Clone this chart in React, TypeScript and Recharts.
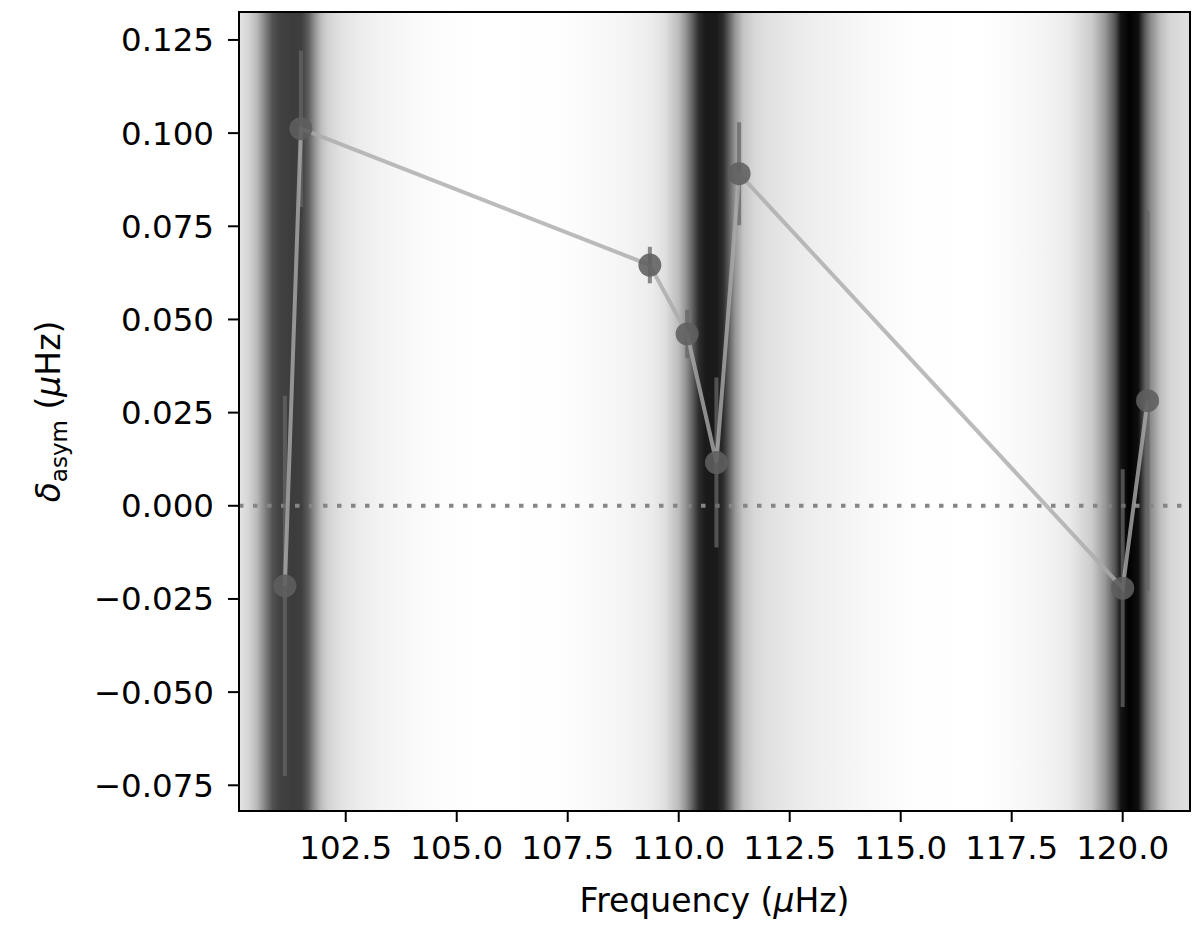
import React from 'react';
import {
  ComposedChart, Line, Scatter, XAxis, YAxis, ErrorBar, ReferenceArea, ReferenceLine, Label,
} from 'recharts';

// measured asymmetry points
const freq = [101.13, 101.49, 109.35, 110.19, 110.85, 111.36, 120.0, 120.56];
const dAsym = [-0.0215, 0.1012, 0.0646, 0.0461, 0.0116, 0.0891, -0.0221, 0.0282];
const dAsymErr = [0.051, 0.021, 0.0049, 0.0065, 0.0228, 0.0138, 0.0319, 0.051];

const xTicks = [102.5, 105.0, 107.5, 110.0, 112.5, 115.0, 117.5, 120.0];
const yTicks = [-0.075, -0.05, -0.025, 0, 0.025, 0.05, 0.075, 0.1, 0.125];

// background spectrum (grey level at each frequency)
const bgFreq = [
  100.1, 100.3, 100.5, 100.7, 100.85, 101.0, 101.3, 101.5, 101.65, 101.8, 101.95, 102.1, 102.4,
  102.8, 103.3, 104.0, 104.8, 105.5, 107.3, 108.0, 108.85, 109.4, 109.7, 110.0, 110.15, 110.3,
  110.45, 110.6, 110.85, 111.0, 111.12, 111.27, 111.45, 111.7, 112.0, 112.5, 113.1, 114.3, 115.4,
  116.8, 117.4, 118.2, 118.8, 119.3, 119.6, 119.83, 119.96, 120.15, 120.35, 120.5, 120.62, 120.84,
  121.07, 121.5,
];
const bgShade = [
  228, 214, 185, 125, 82, 66, 60, 62, 92, 145, 190, 210, 226,
  236, 243, 249, 253, 255, 254, 250, 244, 236, 222, 187, 150, 100,
  45, 26, 26, 45, 90, 150, 195, 215, 224, 232, 239, 248, 254,
  255, 251, 244, 234, 204, 153, 85, 20, 2, 15, 90, 136, 187,
  214, 224,
];

const xMin = 100.096;
const xMax = 121.516;
const yMin = -0.0819;
const yMax = 0.1325;

const FONT = 'DejaVu Sans';

const data = freq.map((f, i) => ({ f, d: dAsym[i], err: dAsymErr[i] }));

const fmtY = (v: number) => (v < 0 ? '\u2212' : '') + Math.abs(v).toFixed(3);

const XLabel = (props: any) => {
  const { x, y, width } = props.viewBox;
  return (
    <text x={x + width / 2} y={y + 101} textAnchor="middle" fontFamily={FONT} fontSize={33} fill="#000">
      Frequency (<tspan fontStyle="italic">μ</tspan>Hz)
    </text>
  );
};

const YLabel = (props: any) => {
  const { y, height } = props.viewBox;
  const cx = 52;
  const cy = y + height / 2;
  return (
    <text
      x={cx}
      y={cy}
      transform={`rotate(-90 ${cx} ${cy})`}
      textAnchor="middle"
      fontFamily={FONT}
      fontSize={33}
      fill="#000"
    >
      <tspan fontStyle="italic">δ</tspan>
      <tspan fontSize={23} dy={7}>asym</tspan>
      <tspan dy={-7}>{'  ('}</tspan>
      <tspan fontStyle="italic">μ</tspan>
      <tspan>Hz)</tspan>
    </text>
  );
};

const Dot = (props: any) => {
  const { cx, cy } = props;
  return <circle cx={cx} cy={cy} r={11.5} fill="#5e5e5e" fillOpacity={0.88} />;
};

export default function App() {
  const span = xMax - xMin;
  return (
    <ComposedChart
      width={1184}
      height={916}
      data={data}
      margin={{ top: 4, right: 2, bottom: 13, left: 0 }}
    >
      <defs>
        <linearGradient id="spectrum" x1="0" y1="0" x2="1" y2="0">
          {bgFreq.map((f, i) => (
            <stop
              key={i}
              offset={`${((f - xMin) / span) * 100}%`}
              stopColor={`rgb(${bgShade[i]},${bgShade[i]},${bgShade[i]})`}
            />
          ))}
        </linearGradient>
      </defs>
      <XAxis
        dataKey="f"
        type="number"
        domain={[xMin, xMax]}
        allowDataOverflow
        ticks={xTicks}
        interval={0}
        tickFormatter={(v: number) => v.toFixed(1)}
        height={100}
        tickSize={11}
        tickMargin={14}
        axisLine={{ stroke: '#000', strokeWidth: 2 }}
        tickLine={{ stroke: '#000', strokeWidth: 2 }}
        tick={{ fill: '#000', fontSize: 32.5, fontFamily: FONT }}
      >
        <Label content={XLabel} />
      </XAxis>
      <YAxis
        type="number"
        domain={[yMin, yMax]}
        allowDataOverflow
        ticks={yTicks}
        interval={0}
        tickFormatter={fmtY}
        width={231}
        tickSize={11}
        tickMargin={14}
        axisLine={{ stroke: '#000', strokeWidth: 2 }}
        tickLine={{ stroke: '#000', strokeWidth: 2 }}
        tick={{ fill: '#000', fontSize: 32.5, fontFamily: FONT }}
      >
        <Label content={YLabel} />
      </YAxis>
      <ReferenceArea
        x1={xMin}
        x2={xMax}
        y1={yMin}
        y2={yMax}
        ifOverflow="visible"
        fill="url(#spectrum)"
        fillOpacity={1}
        stroke="none"
      />
      <ReferenceLine y={0} stroke="#858585" strokeWidth={4} strokeDasharray="4.5 9.5" />
      <Line
        dataKey="d"
        stroke="#aaaaaa"
        strokeOpacity={0.8}
        strokeWidth={4}
        dot={false}
        activeDot={false}
        isAnimationActive={false}
      >
        <ErrorBar dataKey="err" direction="y" width={0} stroke="#666" strokeOpacity={0.75} strokeWidth={4} />
      </Line>
      <Scatter dataKey="d" shape={Dot} isAnimationActive={false} />
      <ReferenceArea
        x1={xMin}
        x2={xMax}
        y1={yMin}
        y2={yMax}
        ifOverflow="visible"
        fill="none"
        stroke="#000"
        strokeWidth={2}
      />
    </ComposedChart>
  );
}
